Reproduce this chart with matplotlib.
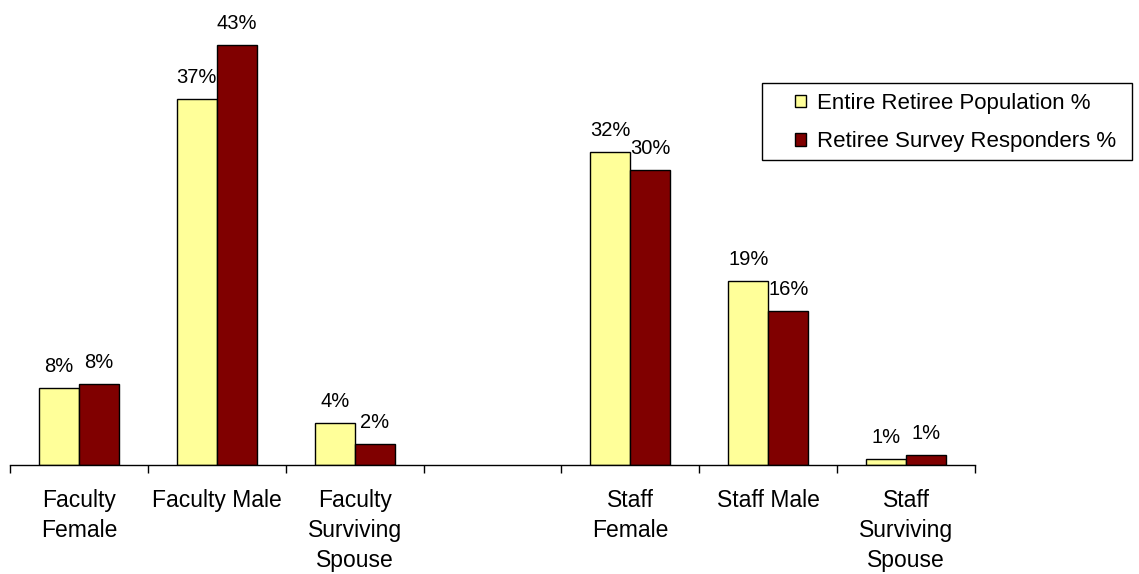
import numpy as np
import matplotlib.pyplot as plt
from matplotlib.patches import Rectangle

plt.rcParams['font.family'] = ['Liberation Sans', 'DejaVu Sans']

# groups (the blank slot separates faculty from staff)
categories = ["Faculty\nFemale", "Faculty Male", "Faculty\nSurviving\nSpouse", "",
              "Staff\nFemale", "Staff Male", "Staff\nSurviving\nSpouse"]
population = [7.9, 37.3, 4.3, np.nan, 31.9, 18.8, 0.6]
responders = [8.3, 42.9, 2.1, np.nan, 30.1, 15.7, 1.0]
series_names = ["Entire Retiree Population %", "Retiree Survey Responders %"]

W, H = 1139, 574
fig = plt.figure(figsize=(W / 100, H / 100), dpi=100)
ax = fig.add_axes([10 / W, (H - 465) / H, 965 / W, 455 / H])

x = np.arange(len(categories))
bw = 0.29
b1 = ax.bar(x - bw, population, bw, align='edge', color='#FFFF99',
            edgecolor='black', linewidth=1, label=series_names[0])
b2 = ax.bar(x, responders, bw, align='edge', color='#800000',
            edgecolor='black', linewidth=1, label=series_names[1])

for bars, vals in ((b1, population), (b2, responders)):
    for rect, v in zip(bars, vals):
        if np.isnan(v):
            continue
        ax.annotate(f"{v:.0f}%", (rect.get_x() + rect.get_width() / 2, v),
                    xytext=(0, 15.5), textcoords='offset points',
                    ha='center', va='center', fontsize=14.5)

ax.set_xlim(-0.5, len(categories) - 0.5)
ax.set_ylim(0, 455 / 9.8)

# labels under the group centres, tick marks on the group boundaries
ax.set_xticks(x)
ax.set_xticklabels(categories, fontsize=16.5, linespacing=1.4, va='top')
ax.tick_params(axis='x', which='major', length=0, pad=17)
ax.set_xticks(np.arange(-0.5, len(categories)), minor=True)
ax.tick_params(axis='x', which='minor', length=6, width=1, direction='out')
ax.set_yticks([])

for s in ('left', 'right', 'top'):
    ax.spines[s].set_visible(False)
ax.spines['bottom'].set_linewidth(1)

# legend box drawn separately so the entries can sit left inside it
fig.patches.append(Rectangle((762 / W, 1 - 160 / H), 370 / W, 77 / H,
                             transform=fig.transFigure, facecolor='white',
                             edgecolor='black', linewidth=1, zorder=1))
leg = fig.legend(loc='upper left', bbox_to_anchor=(795 / W, 1 - 93 / H),
                 fontsize=16, frameon=False, handlelength=0.48, handleheight=0.48,
                 handletextpad=0.5, labelspacing=0.78, borderpad=0,
                 borderaxespad=0)
leg.set_zorder(2)

fig.savefig('out.png', dpi=100)
